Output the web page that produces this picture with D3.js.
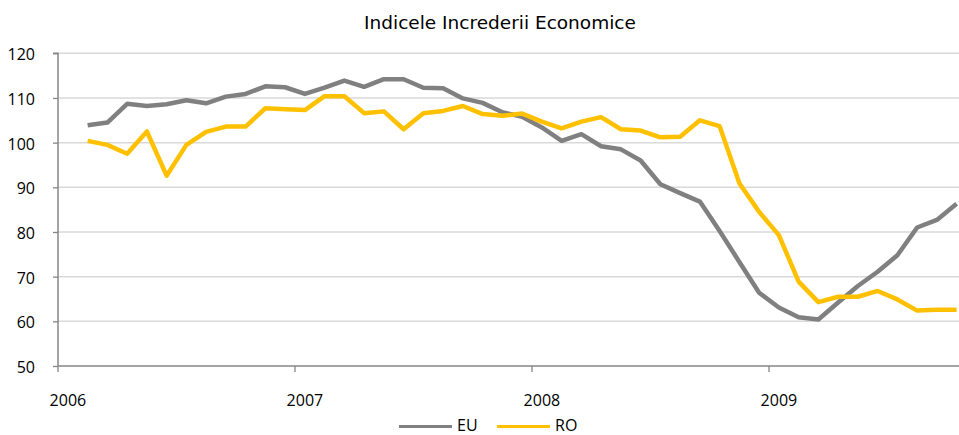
<!DOCTYPE html>
<html>
<head>
<meta charset="utf-8">
<script src="https://cdn.jsdelivr.net/npm/d3@7"></script>
<style>
  html, body { margin: 0; padding: 0; background: #fff; }
  svg { display: block; }
</style>
</head>
<body>
<svg id="chart" width="959" height="435"></svg>
<script>
// ---- data ----
const years = ["2006", "2007", "2008", "2009"];
const months = [];
years.forEach(y => { for (let m = 1; m <= 12; m++) months.push(y + "-" + String(m).padStart(2, "0")); });
const categories = months.slice(0, 46); // Jan 2006 .. Oct 2009

const euValues = [null,
  103.9, 104.5, 108.7, 108.2, 108.6, 109.5, 108.8, 110.3, 110.9, 112.6, 112.4,
  110.9, 112.3, 113.9, 112.5, 114.2, 114.2, 112.3, 112.2, 109.9, 108.9, 106.8,
  105.8, 103.4, 100.4, 101.9, 99.2, 98.5, 96.0, 90.7, 88.7, 86.8, 80.2,
  73.3, 66.4, 63.1, 60.9, 60.4, 64.2, 67.9, 71.1, 74.8, 81.0, 82.7, 86.3
];
const roValues = [null,
  100.4, 99.5, 97.5, 102.5, 92.6, 99.5, 102.4, 103.6, 103.6, 107.7, 107.5,
  107.3, 110.4, 110.4, 106.6, 107.0, 103.0, 106.6, 107.1, 108.2, 106.4, 106.0,
  106.5, 104.7, 103.2, 104.7, 105.7, 103.0, 102.7, 101.2, 101.3, 105.0, 103.7,
  90.9, 84.5, 79.3, 68.9, 64.3, 65.5, 65.5, 66.8, 64.9, 62.4, 62.6, 62.6
];
const yTicks = [50, 60, 70, 80, 90, 100, 110, 120];
const xTickLabels = years;

const series = [
  { name: "EU", values: euValues, color: "#808080" },
  { name: "RO", values: roValues, color: "#FFC000" }
];

// ---- layout ----
const svg = d3.select("#chart");
const mLeft = 58, mTop = 53.3, mBottom = 366, plotRight = 966.5;
const x = d3.scaleBand().domain(categories).range([mLeft, plotRight]).paddingInner(0).paddingOuter(0);
const y = d3.scaleLinear().domain([50, 120]).range([mBottom, mTop]);
const fontAxis = "'Open Sans', 'Liberation Sans', sans-serif";

svg.append("defs").append("clipPath").attr("id", "clip")
  .append("rect").attr("x", 0).attr("y", 0).attr("width", 959).attr("height", 435);

// gridlines
svg.append("g").selectAll("line").data(yTicks.filter(d => d > 50)).join("line")
  .attr("x1", mLeft).attr("x2", 959)
  .attr("y1", d => y(d)).attr("y2", d => y(d))
  .attr("stroke", "#d9d9d9").attr("stroke-width", 1.5);

// y axis
const yAxis = d3.axisLeft(y).tickValues(yTicks).tickSize(5).tickPadding(18).tickFormat(d3.format("d"));
const gy = svg.append("g").attr("transform", `translate(${mLeft},0)`).call(yAxis);
gy.select(".domain").attr("stroke", "#868686").attr("stroke-width", 1.5).attr("d", `M-5,${mTop}H0V${mBottom}`);
gy.selectAll(".tick line").attr("stroke", "#868686").attr("stroke-width", 1.3);
gy.selectAll(".tick text").attr("font-family", fontAxis).attr("font-size", 16).attr("fill", "#000").attr("dy", "0.4em");

// x axis
const gx = svg.append("g");
gx.append("line").attr("x1", mLeft).attr("x2", 959).attr("y1", mBottom).attr("y2", mBottom)
  .attr("stroke", "#868686").attr("stroke-width", 1.5);
const tickCats = xTickLabels.map(yr => yr + "-01");
gx.selectAll("line.tk").data(tickCats).join("line").attr("class", "tk")
  .attr("x1", d => x(d)).attr("x2", d => x(d))
  .attr("y1", mBottom).attr("y2", mBottom + 6)
  .attr("stroke", "#868686").attr("stroke-width", 1.3);
gx.selectAll("text").data(tickCats).join("text")
  .attr("x", d => x(d) + x.bandwidth() / 2)
  .attr("y", 406)
  .attr("text-anchor", "middle")
  .attr("font-family", fontAxis).attr("font-size", 16).attr("fill", "#000")
  .text(d => d.slice(0, 4));

// lines
const line = d3.line()
  .defined(d => d.v != null)
  .x(d => x(d.c) + x.bandwidth() / 2)
  .y(d => y(d.v));
svg.append("g").attr("clip-path", "url(#clip)").selectAll("path").data(series).join("path")
  .attr("fill", "none")
  .attr("stroke", d => d.color)
  .attr("stroke-width", 4.5)
  .attr("stroke-linejoin", "round")
  .attr("d", d => line(categories.map((c, i) => ({ c, v: d.values[i] }))));

// title
svg.append("text").attr("x", 500).attr("y", 29)
  .attr("text-anchor", "middle")
  .attr("font-family", "'DejaVu Sans', sans-serif").attr("font-size", 18.5).attr("fill", "#000")
  .text("Indicele Increderii Economice");

// legend
const legendItems = [{ name: "EU", color: "#808080", x: 399 }, { name: "RO", color: "#FFC000", x: 497 }];
const lg = svg.append("g");
legendItems.forEach(it => {
  lg.append("line").attr("x1", it.x).attr("x2", it.x + 53).attr("y1", 426.5).attr("y2", 426.5)
    .attr("stroke", it.color).attr("stroke-width", 3);
  lg.append("text").attr("x", it.x + 58).attr("y", 431)
    .attr("font-family", fontAxis).attr("font-size", 16).attr("fill", "#000").text(it.name);
});
</script>
</body>
</html>
